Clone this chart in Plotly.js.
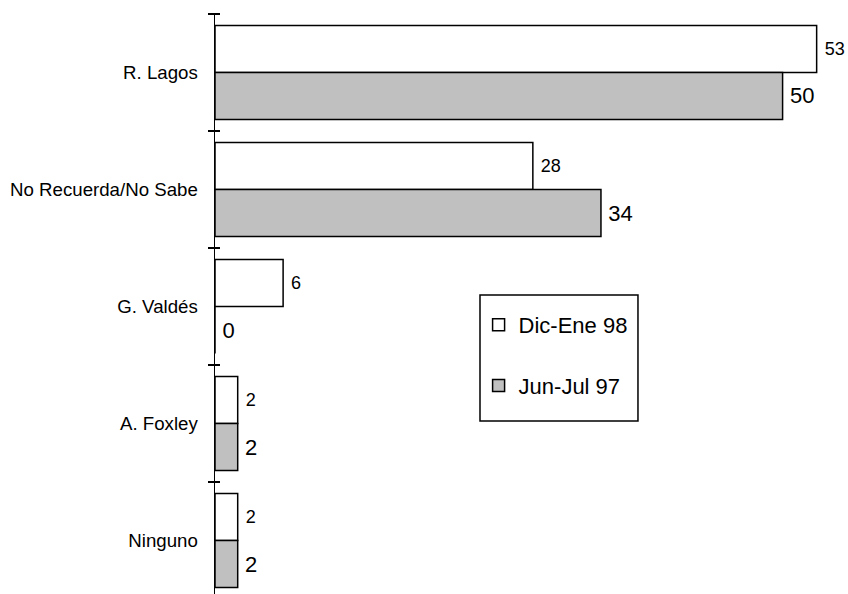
<!DOCTYPE html>
<html>
<head>
<meta charset="utf-8">
<script src="https://cdn.plot.ly/plotly-3.0.1.min.js"></script>
<style>body{margin:0;background:#fff}#chart{width:848px;height:594px}</style>
</head>
<body>
<div id="chart"></div>
<script>
const categories = ["R. Lagos", "No Recuerda/No Sabe", "G. Valdés", "A. Foxley", "Ninguno"];
const dicEne98 = [53, 28, 6, 2, 2];
const junJul97 = [50, 34, 0, 2, 2];
const seriesNames = ["Dic-Ene 98", "Jun-Jul 97"];

const FONT = "Arial, 'Liberation Sans', sans-serif";

const traces = [
  {
    type: "bar", orientation: "h", name: seriesNames[0],
    y: categories, x: dicEne98,
    marker: {color: "#ffffff", line: {color: "#000000", width: 1.5}},
    text: dicEne98.map(v => " " + v), textposition: "outside",
    textfont: {family: FONT, size: 18, color: "#000"},
    cliponaxis: false, legendgroup: "a", hoverinfo: "skip"
  },
  {
    type: "bar", orientation: "h", name: seriesNames[1],
    y: categories, x: junJul97,
    marker: {color: "#c0c0c0", line: {color: "#000000", width: 1.5}},
    text: junJul97.map(v => "\u2009" + v), textposition: "outside",
    textfont: {family: FONT, size: 22, color: "#000"},
    cliponaxis: false, legendgroup: "b", hoverinfo: "skip"
  },
  {
    type: "scatter", mode: "markers", x: [0], y: [0], xaxis: "x2", yaxis: "y2",
    marker: {size: 1, opacity: 0}, showlegend: false, hoverinfo: "skip"
  }
];

const yr = [4.457, -0.5];
const boundaries = [-0.5, 0.5, 1.5, 2.5, 3.5, 4.5];
const layout = {
  width: 848, height: 594,
  margin: {l: 215, r: 20, t: 14, b: 0},
  paper_bgcolor: "#fff", plot_bgcolor: "rgba(0,0,0,0)",
  font: {family: FONT, size: 18, color: "#000"},
  barmode: "group", bargap: 0.197, bargroupgap: 0,
  showlegend: true,
  legend: {
    x: 0.430, y: 0.50, xanchor: "left", yanchor: "top",
    bgcolor: "rgba(0,0,0,0)", borderwidth: 0,
    font: {family: FONT, size: 22, color: "#000"},
    tracegroupgap: 29, traceorder: "grouped"
  },
  xaxis: {
    range: [0, 54.0], domain: [0, 1], showgrid: false, zeroline: false, showline: false,
    showticklabels: false, ticks: "", fixedrange: true
  },
  yaxis: {
    type: "category", categoryorder: "array", categoryarray: categories,
    range: yr, showgrid: false, zeroline: false,
    showline: true, linecolor: "#000", linewidth: 1.5,
    ticks: "outside", tickson: "boundaries", ticklen: 6, tickwidth: 1.5, tickcolor: "#000",
    ticklabelstandoff: 12,
    tickfont: {family: FONT, size: 18.67, color: "#000"}
  },
  xaxis2: {
    domain: [0.0098, 1], anchor: "y2", range: [0, 1],
    visible: false
  },
  yaxis2: {
    type: "linear", side: "left", anchor: "x2", domain: [0, 1],
    range: yr, tickmode: "array", tickvals: boundaries,
    showgrid: false, zeroline: false, showline: false, showticklabels: false,
    ticks: "outside", ticklen: 6, tickwidth: 1.5, tickcolor: "#000"
  },
  shapes: [{
    type: "rect", xref: "paper", yref: "paper",
    x0: 0.4323, x1: 0.690, y0: 0.2983, y1: 0.5155,
    line: {color: "#000", width: 1.5}, fillcolor: "rgba(0,0,0,0)"
  }]
};

Plotly.newPlot("chart", traces, layout, {staticPlot: true, displayModeBar: false});
</script>
</body>
</html>
